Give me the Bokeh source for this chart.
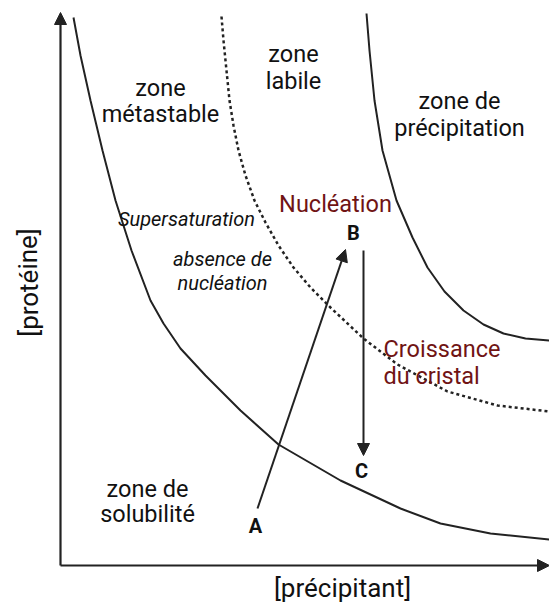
from bokeh.plotting import figure
from bokeh.models import Range1d, Arrow, NormalHead
from bokeh.core.properties import value
from bokeh.embed import file_html
from bokeh.resources import INLINE

# ---- data (conceptual units: x = [précipitant], y = [protéine]) ----
sol_x = [13, 20, 30, 42, 55, 71, 90, 103, 120, 145, 180, 218, 280, 340, 380, 430, 489]
sol_y = [548, 510, 465, 415, 365, 315, 265, 242, 217, 190, 155, 121, 85, 57, 42, 32, 26]

prec_x = [306, 309, 314, 322, 336, 352, 367, 384, 403, 423, 443, 465, 489]
prec_y = [552, 515, 465, 415, 365, 328, 298, 274, 255, 241, 232, 227, 225]

super_x = [161, 163, 166, 169, 173, 178, 185, 194, 205, 218, 233, 250, 270, 303, 337, 387, 437, 489]
super_y = [549, 525, 495, 465, 440, 415, 390, 365, 343, 320, 298, 278, 258, 227, 201, 174, 160, 154]

pt_names = ["A", "B", "C"]
pt_x = [195, 293, 301]
pt_y = [40, 333, 95]

# arrow A -> B and B -> C
ab_start = (197, 57)
ab_end = (285, 316)
bc_start = (303, 315)
bc_end = (303, 110)

zone_text = ["zone", "métastable", "zone", "labile", "zone de", "précipitation", "zone de", "solubilité"]
zone_x = [100, 100, 233, 233, 399, 399, 87, 87]
zone_y = [478, 452, 512, 485, 465, 438, 77, 52]

ital_text = ["Supersaturation", "absence de", "nucléation"]
ital_x = [126, 162, 162]
ital_y = [347, 307, 283]

red_text = ["Nucléation"]
red_x = [275]
red_y = [362]

cr_text = ["Croissance", "du cristal"]
cr_x = [323, 323]
cr_y = [217, 190]

x_label = "[précipitant]"
y_label = "[protéine]"

FONT = "Roboto"
INK = "#222222"
RED = "#701414"

p = figure(width=549, height=604, output_backend="svg", toolbar_location=None,
           x_range=Range1d(-60, 489), y_range=Range1d(-39, 565), min_border=0)
p.axis.visible = False
p.grid.visible = False
p.outline_line_color = None

# axes
p.add_layout(Arrow(end=NormalHead(size=12, fill_color=INK, line_color=INK),
                   x_start=0, y_start=0, x_end=0, y_end=553,
                   line_width=2.2, line_color=INK))
p.add_layout(Arrow(end=NormalHead(size=12, fill_color=INK, line_color=INK),
                   x_start=0, y_start=0, x_end=489, y_end=0,
                   line_width=2.2, line_color=INK))

# curves
p.line(sol_x, sol_y, line_width=2, line_color=INK)
p.line(prec_x, prec_y, line_width=2, line_color=INK)
p.line(super_x, super_y, line_width=2.5, line_color=INK, line_dash="3 3")

# process arrows
p.add_layout(Arrow(end=NormalHead(size=12, fill_color=INK, line_color=INK),
                   x_start=ab_start[0], y_start=ab_start[1], x_end=ab_end[0], y_end=ab_end[1],
                   line_width=2, line_color=INK))
p.add_layout(Arrow(end=NormalHead(size=12, fill_color=INK, line_color=INK),
                   x_start=bc_start[0], y_start=bc_start[1], x_end=bc_end[0], y_end=bc_end[1],
                   line_width=2, line_color=INK))

# labels
p.text(zone_x, zone_y, text=zone_text, text_font=value(FONT), text_font_size="23.5px",
       text_align="center", text_baseline="middle", text_color="#111111")
p.text(ital_x, ital_y, text=ital_text, text_font=value(FONT), text_font_size="20px",
       text_font_style="italic", text_align="center", text_baseline="middle", text_color="#111111")
p.text(red_x, red_y, text=red_text, text_font=value(FONT), text_font_size="23.5px",
       text_align="center", text_baseline="middle", text_color=RED)
p.text(cr_x, cr_y, text=cr_text, text_font=value(FONT), text_font_size="23.5px",
       text_align="left", text_baseline="middle", text_color=RED)
p.text(pt_x, pt_y, text=pt_names, text_font=value(FONT), text_font_size="20px",
       text_font_style="bold", text_align="center", text_baseline="middle", text_color="#111111")
p.text([282], [-22], text=[x_label], text_font=value(FONT), text_font_size="26px",
       text_align="center", text_baseline="middle", text_color="#111111")
p.text([-32], [283], text=[y_label], text_font=value(FONT), text_font_size="26px",
       angle=1.5708, text_align="center", text_baseline="middle", text_color="#111111")

open("out.html", "w").write(file_html(p, INLINE))
